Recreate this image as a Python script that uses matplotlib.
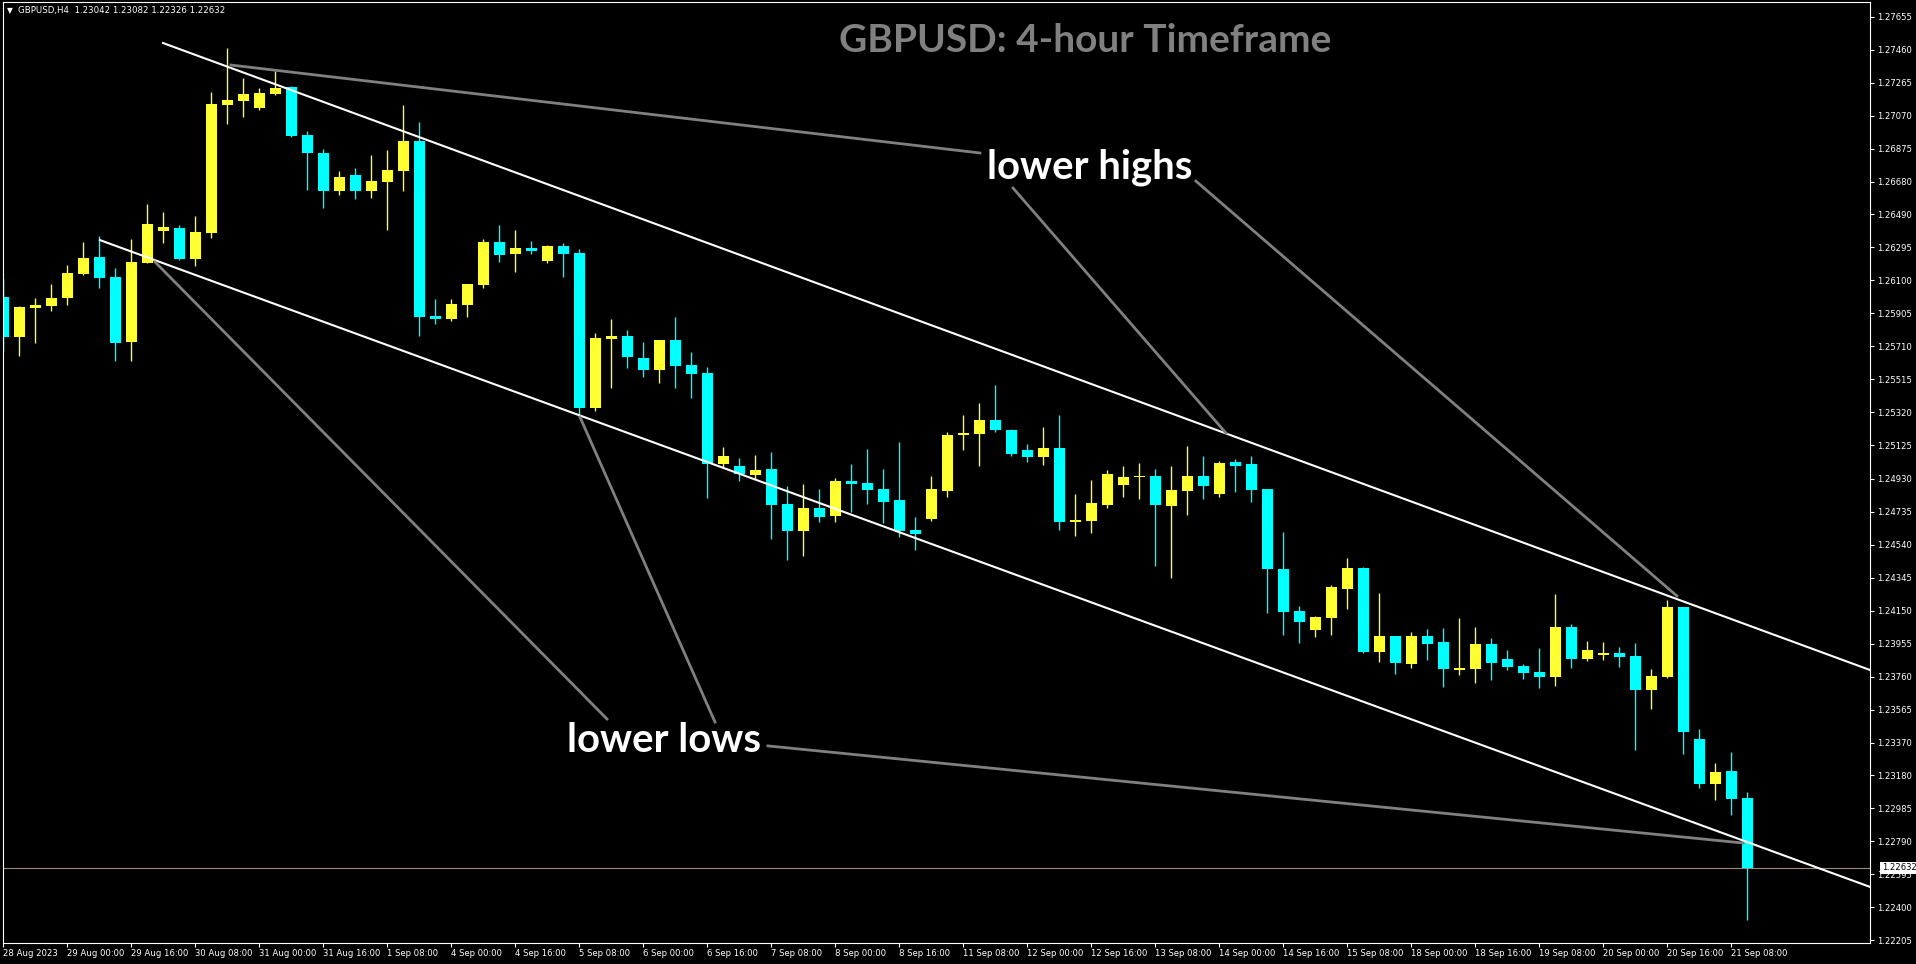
import matplotlib
matplotlib.use('Agg')
import matplotlib.pyplot as plt

plt.rcParams['font.family'] = ['DejaVu Sans']

# GBPUSD H4, 28 Aug 2023 08:00 .. 21 Sep 2023 12:00 (bar index 0..109)
opens = [1.26003, 1.25764, 1.25939, 1.25950, 1.25998, 1.26139, 1.26238, 1.26120, 1.25738, 1.26204,
         1.26391, 1.26409, 1.26226, 1.26381, 1.27136, 1.27160, 1.27119, 1.27201, 1.27241, 1.26956,
         1.26851, 1.26629, 1.26721, 1.26629, 1.26682, 1.26747, 1.26922, 1.25890, 1.25874, 1.25956,
         1.26072, 1.26326, 1.26255, 1.26291, 1.26214, 1.26303, 1.26261, 1.25347, 1.25754, 1.25772,
         1.25642, 1.25571, 1.25748, 1.25601, 1.25553, 1.25016, 1.25005, 1.24951, 1.24987, 1.24780,
         1.24621, 1.24757, 1.24710, 1.24916, 1.24904, 1.24869, 1.24804, 1.24627, 1.24692, 1.24857,
         1.25187, 1.25193, 1.25276, 1.25217, 1.25099, 1.25058, 1.25111, 1.24674, 1.24680, 1.24774,
         1.24892, 1.24940, 1.24946, 1.24769, 1.24857, 1.24946, 1.24839, 1.25028, 1.25016, 1.24869,
         1.24397, 1.24149, 1.24037, 1.24108, 1.24279, 1.24403, 1.23907, 1.24001, 1.23836, 1.24001,
         1.23966, 1.23801, 1.23807, 1.23954, 1.23866, 1.23825, 1.23789, 1.23760, 1.24055, 1.23866,
         1.23890, 1.23901, 1.23884, 1.23683, 1.23760, 1.24173, 1.23394, 1.23128, 1.23205, 1.23042]
highs = [1.26112, 1.25950, 1.25994, 1.26078, 1.26190, 1.26326, 1.26362, 1.26173, 1.26344, 1.26550,
         1.26503, 1.26427, 1.26480, 1.27211, 1.27471, 1.27294, 1.27235, 1.27333, 1.27247, 1.26981,
         1.26875, 1.26747, 1.26763, 1.26839, 1.26870, 1.27134, 1.27034, 1.25990, 1.25990, 1.26078,
         1.26344, 1.26427, 1.26397, 1.26332, 1.26308, 1.26320, 1.26285, 1.25789, 1.25872, 1.25807,
         1.25736, 1.25748, 1.25884, 1.25677, 1.25589, 1.25117, 1.25052, 1.25070, 1.25087, 1.24887,
         1.24898, 1.24869, 1.24934, 1.25016, 1.25105, 1.24987, 1.25146, 1.24704, 1.24946, 1.25205,
         1.25305, 1.25376, 1.25482, 1.25223, 1.25134, 1.25235, 1.25305, 1.24839, 1.24922, 1.24981,
         1.25005, 1.25022, 1.24987, 1.25005, 1.25123, 1.25064, 1.25034, 1.25046, 1.25064, 1.24869,
         1.24615, 1.24178, 1.24119, 1.24303, 1.24462, 1.24409, 1.24255, 1.24001, 1.24025, 1.24043,
         1.24049, 1.24108, 1.24055, 1.23990, 1.23919, 1.23836, 1.23931, 1.24249, 1.24072, 1.23972,
         1.23966, 1.23937, 1.23960, 1.23807, 1.24214, 1.24173, 1.23453, 1.23252, 1.23317, 1.23082]
lows = [1.25685, 1.25655, 1.25728, 1.25921, 1.25955, 1.26131, 1.26057, 1.25626, 1.25626, 1.26204,
        1.26322, 1.26220, 1.26186, 1.26352, 1.27024, 1.27065, 1.27107, 1.27192, 1.26947, 1.26635,
        1.26529, 1.26605, 1.26582, 1.26588, 1.26399, 1.26629, 1.25773, 1.25844, 1.25862, 1.25885,
        1.26057, 1.26208, 1.26149, 1.26255, 1.26202, 1.26120, 1.25305, 1.25329, 1.25465, 1.25583,
        1.25530, 1.25494, 1.25465, 1.25406, 1.24816, 1.24999, 1.24916, 1.24928, 1.24574, 1.24450,
        1.24473, 1.24674, 1.24674, 1.24733, 1.24780, 1.24668, 1.24586, 1.24509, 1.24680, 1.24822,
        1.25099, 1.25005, 1.25205, 1.25064, 1.25028, 1.25010, 1.24627, 1.24592, 1.24609, 1.24757,
        1.24822, 1.24810, 1.24415, 1.24344, 1.24715, 1.24810, 1.24822, 1.24851, 1.24792, 1.24137,
        1.24007, 1.23960, 1.23995, 1.24007, 1.24161, 1.23901, 1.23848, 1.23777, 1.23813, 1.23860,
        1.23701, 1.23771, 1.23724, 1.23742, 1.23801, 1.23748, 1.23695, 1.23707, 1.23813, 1.23854,
        1.23860, 1.23819, 1.23329, 1.23571, 1.23754, 1.23305, 1.23104, 1.23033, 1.22945, 1.22326]
closes = [1.25764, 1.25943, 1.25955, 1.25996, 1.26143, 1.26232, 1.26116, 1.25732, 1.26208, 1.26432,
          1.26415, 1.26226, 1.26385, 1.27140, 1.27164, 1.27199, 1.27205, 1.27235, 1.26953, 1.26853,
          1.26629, 1.26710, 1.26629, 1.26686, 1.26751, 1.26922, 1.25885, 1.25874, 1.25959, 1.26078,
          1.26326, 1.26251, 1.26291, 1.26273, 1.26303, 1.26255, 1.25347, 1.25760, 1.25772, 1.25650,
          1.25571, 1.25748, 1.25595, 1.25547, 1.25016, 1.25064, 1.24957, 1.24981, 1.24774, 1.24621,
          1.24757, 1.24704, 1.24916, 1.24898, 1.24863, 1.24792, 1.24621, 1.24603, 1.24869, 1.25187,
          1.25199, 1.25276, 1.25217, 1.25075, 1.25058, 1.25111, 1.24674, 1.24686, 1.24786, 1.24957,
          1.24940, 1.24947, 1.24774, 1.24863, 1.24946, 1.24887, 1.25022, 1.25005, 1.24863, 1.24397,
          1.24143, 1.24084, 1.24113, 1.24291, 1.24403, 1.23907, 1.24001, 1.23842, 1.24001, 1.23954,
          1.23807, 1.23813, 1.23954, 1.23842, 1.23819, 1.23783, 1.23760, 1.24055, 1.23866, 1.23919,
          1.23901, 1.23878, 1.23683, 1.23766, 1.24173, 1.23435, 1.23128, 1.23199, 1.23039, 1.22632]

last_price = 1.22632

xtick_idx = list(range(0, 110, 4))
xtick_labels = ['28 Aug 2023', '29 Aug 00:00', '29 Aug 16:00', '30 Aug 08:00', '31 Aug 00:00',
                '31 Aug 16:00', '1 Sep 08:00', '4 Sep 00:00', '4 Sep 16:00', '5 Sep 08:00',
                '6 Sep 00:00', '6 Sep 16:00', '7 Sep 08:00', '8 Sep 00:00', '8 Sep 16:00',
                '11 Sep 08:00', '12 Sep 00:00', '12 Sep 16:00', '13 Sep 08:00', '14 Sep 00:00',
                '14 Sep 16:00', '15 Sep 08:00', '18 Sep 00:00', '18 Sep 16:00', '19 Sep 08:00',
                '20 Sep 00:00', '20 Sep 16:00', '21 Sep 08:00']
ytick_vals = [1.27655, 1.27460, 1.27265, 1.27070, 1.26875, 1.26680, 1.26490, 1.26295, 1.26100,
              1.25905, 1.25710, 1.25515, 1.25320, 1.25125, 1.24930, 1.24735, 1.24540, 1.24345,
              1.24150, 1.23955, 1.23760, 1.23565, 1.23370, 1.23180, 1.22985, 1.22790, 1.22595,
              1.22400, 1.22205]

# channel lines (bar index, price)
upper_x = [9.98, 116.67]
upper_y = [1.27500, 1.23800]
lower_x = [6.04, 116.67]
lower_y = [1.26337, 1.22520]

# pointer lines from the labels to the touches
highs_ptr = [([14.23, 61.04], [1.27370, 1.26851]),
             ([63.11, 76.42], [1.26644, 1.25198]),
             ([74.54, 104.6], [1.26685, 1.24237])]
lows_ptr = [([9.48, 37.73], [1.26208, 1.23511]),
            ([36.04, 44.48], [1.25293, 1.23493]),
            ([47.79, 108.73], [1.23352, 1.22779])]

W, H = 1916, 964
fig = plt.figure(figsize=(W / 100, H / 100), dpi=100, facecolor='black')
ax = fig.add_axes([2.5 / W, 21 / H, 1867.5 / W, 941 / H])
ax.set_facecolor('black')

bull, bear = '#ffff33', '#00ffff'
idx = list(range(len(opens)))
cols = [bull if c >= o else bear for o, c in zip(opens, closes)]
ax.vlines(idx, lows, highs, colors=cols, lw=1.0, zorder=2)
bottoms = [min(o, c) for o, c in zip(opens, closes)]
heights = [max(abs(c - o), 0.00005) for o, c in zip(opens, closes)]
ax.bar(idx, heights, bottom=bottoms, width=0.69, color=cols, lw=0, zorder=2)

ax.axhline(last_price, color='#9c8a7a', lw=0.8, zorder=1.5)

ax.plot(upper_x, upper_y, color='white', lw=1.5, zorder=3)
ax.plot(lower_x, lower_y, color='white', lw=1.5, zorder=3)
for xs, ys in highs_ptr + lows_ptr:
    ax.plot(xs, ys, color='#808080', lw=2, zorder=3)

ax.text(67.6, 1.27447, 'GBPUSD: 4-hour Timeframe', ha='center', va='baseline',
        color='#808080', fontsize=28, fontweight='bold', family='Lato', zorder=4)
ax.text(61.48, 1.26703, 'lower highs', ha='left', va='baseline',
        color='white', fontsize=28.8, fontweight='bold', family='Lato', zorder=4)
ax.text(35.23, 1.23316, 'lower lows', ha='left', va='baseline',
        color='white', fontsize=28.8, fontweight='bold', family='Lato', zorder=4)

ax.set_xlim(-0.05, 116.67)
ax.set_ylim(1.22189, 1.27742)

ax.yaxis.tick_right()
ax.set_yticks(ytick_vals)
ax.set_yticklabels(['%.5f' % v for v in ytick_vals])
ax.set_xticks(xtick_idx)
ax.set_xticklabels(xtick_labels, ha='left')
ax.tick_params(axis='both', colors='white', length=3, width=0.8, labelsize=6.1)
ax.tick_params(axis='y', pad=2)
ax.tick_params(axis='x', pad=1.5)
for s in ax.spines.values():
    s.set_color('white')
    s.set_linewidth(0.8)

ax.text(1.0 + 12 / 1867.5, last_price, '%.5f' % last_price, transform=ax.get_yaxis_transform(),
        ha='left', va='center', color='black', fontsize=6.1, clip_on=False, zorder=6,
        bbox=dict(boxstyle='square,pad=0.2', fc='white', ec='none'))

fig.text(7 / W, 1 - 11 / H, '\u25bc', color='white', fontsize=5.5, ha='left', va='center')
fig.text(18 / W, 1 - 11 / H, 'GBPUSD,H4  1.23042 1.23082 1.22326 1.22632',
         color='white', fontsize=6.2, ha='left', va='center')

fig.savefig('out.png', dpi=100, facecolor='black')
